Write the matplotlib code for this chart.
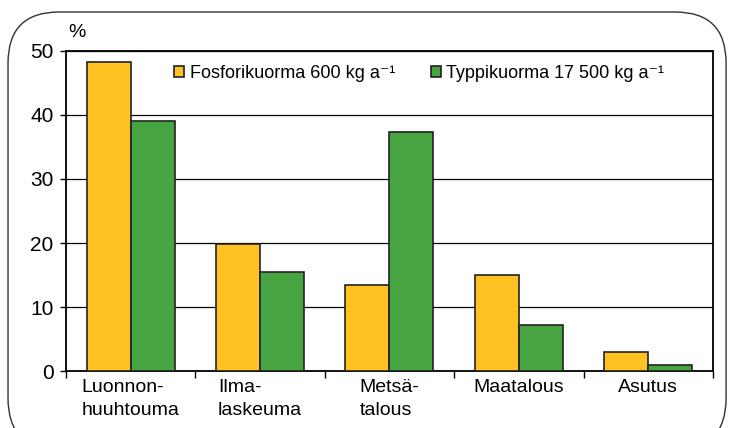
import numpy as np
import matplotlib
matplotlib.use("Agg")
import matplotlib.pyplot as plt
from matplotlib.patches import FancyBboxPatch

categories = ["Luonnon-\nhuuhtouma", "Ilma-\nlaskeuma", "Metsä-\ntalous", "Maatalous", "Asutus"]
fosfori = [48.2, 19.9, 13.5, 15.0, 3.0]
typpi = [39.1, 15.4, 37.4, 7.2, 1.0]
labels = ["Fosforikuorma 600 kg a⁻¹", "Typpikuorma 17 500 kg a⁻¹"]

plt.rcParams["font.family"] = ["Liberation Sans", "DejaVu Sans"]

fig = plt.figure(figsize=(7.29, 4.28), dpi=100)
ax = fig.add_axes([0.0905, 0.133, 0.8875, 0.748])

# rounded outer frame
frame = FancyBboxPatch((0.011, -0.05), 0.985, 1.022, boxstyle="round,pad=0,rounding_size=0.07",
                       transform=fig.transFigure, fill=False, ec="#333333", lw=1.0,
                       mutation_aspect=729 / 428)
fig.patches.append(frame)

x = np.arange(len(categories))
w = 0.34
ax.bar(x - w / 2, fosfori, w, color="#FFC222", edgecolor="#222222", lw=1.2, label=labels[0], zorder=3)
ax.bar(x + w / 2, typpi, w, color="#47A541", edgecolor="#222222", lw=1.2, label=labels[1], zorder=3)

ax.set_xlim(-0.5, len(categories) - 0.5)
ax.set_ylim(0, 50)
ax.set_yticks([0, 10, 20, 30, 40, 50])
ax.tick_params(axis="y", labelsize=15, length=4, width=1, pad=5)
ax.yaxis.grid(True, color="black", lw=0.9, zorder=0)
ax.set_axisbelow(True)

ax.set_xticks(np.arange(len(categories) + 1) - 0.5)
ax.set_xticklabels([])
ax.tick_params(axis="x", length=5, width=1, direction="out")
for i, c in enumerate(categories):
    ax.text(i, -1.2, c, ha="center", va="top", fontsize=14, multialignment="left",
            linespacing=1.45, transform=ax.transData)

for s in ax.spines.values():
    s.set_linewidth(1.3)

ax.text(0.003, 1.03, "%", transform=ax.transAxes, fontsize=14, ha="left", va="bottom")

leg = ax.legend(loc="upper left", bbox_to_anchor=(0.148, 0.995), ncol=2, frameon=False,
                fontsize=13, handlelength=0.55, handleheight=0.55, handletextpad=0.3,
                columnspacing=2.0, borderaxespad=0.3)

fig.savefig("out.png", dpi=100)
